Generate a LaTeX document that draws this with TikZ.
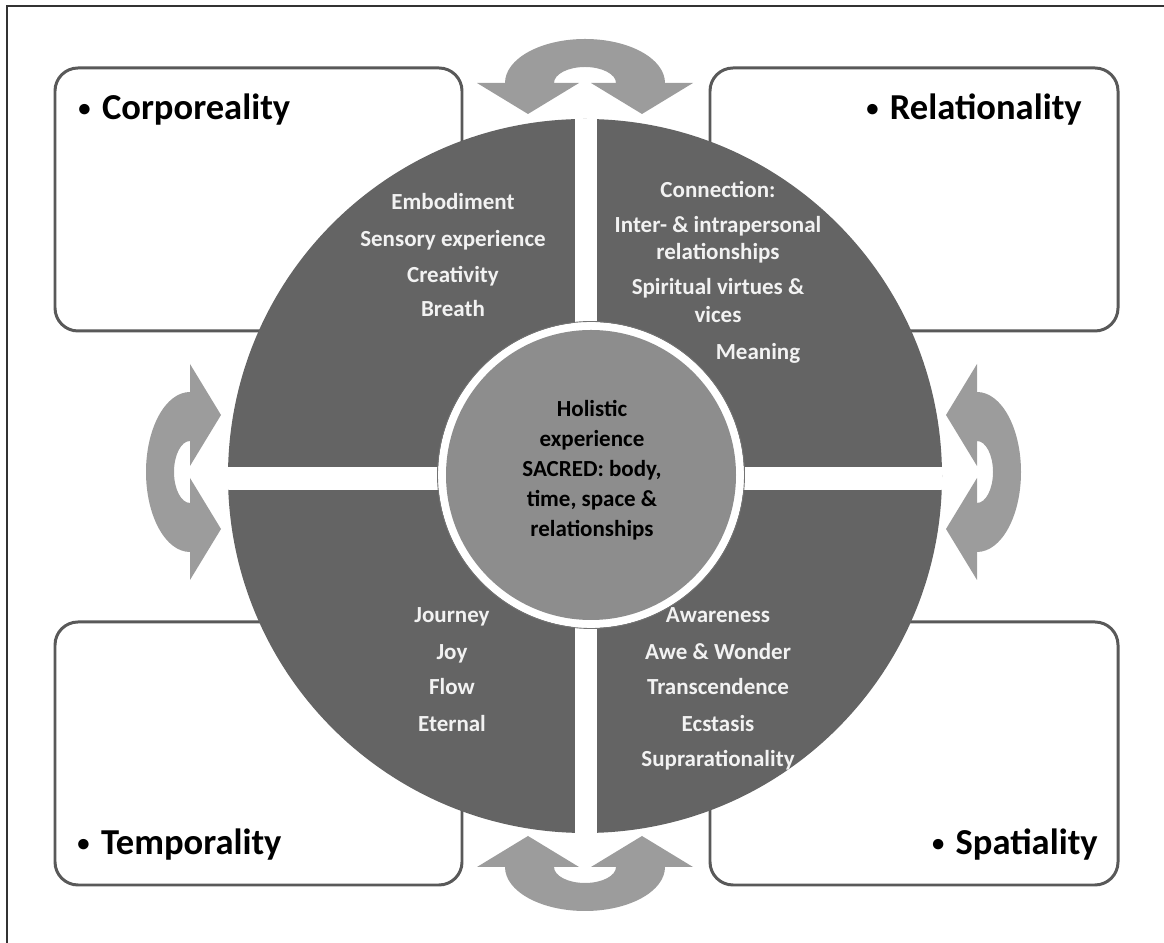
\documentclass[tikz,border=0pt]{standalone}
\usepackage{fontspec}
\setmainfont{Carlito}
\definecolor{quadgray}{HTML}{646464}
\definecolor{hubgray}{HTML}{8D8D8D}
\definecolor{arrowgray}{HTML}{9C9C9C}
\definecolor{boxline}{HTML}{595959}
\definecolor{qwhite}{HTML}{F2F2F2}
\newcommand\smallbul{\raisebox{2.2pt}{\fontsize{14}{14}\selectfont•}\hspace{6.5pt}}
\tikzset{
  panel/.style={draw=boxline, line width=1.7pt, rounded corners=0.46cm, fill=white},
  ptitle/.style={font=\fontsize{20.8}{25}\selectfont\bfseries, text=black, inner sep=0pt},
  qtext/.style={font=\fontsize{13.1}{17}\selectfont\bfseries, text=qwhite, inner sep=0pt, anchor=base},
  htext/.style={font=\fontsize{13.1}{17}\selectfont\bfseries, text=black, inner sep=0pt, anchor=base},
  turnfill/.style={fill=arrowgray, draw=none},
  framestyle/.style={draw=black!80, line width=1.1pt},
}
\newcommand\drawturn[2]{%
  \begin{scope}[shift={#1}, rotate=#2]
    \fill[turnfill] (-108,0) -- (-57,-31) -- (-6,0) -- (-31,0)
      .. controls (-31,8.8) and (-17.1,16) .. (0,16)
      .. controls (17.1,16) and (31,8.8) .. (31,0)
      -- (6,0) -- (57,-31) -- (108,0) -- (80,0)
      .. controls (80,24.3) and (44.2,44) .. (0,44)
      .. controls (-44.2,44) and (-80,24.3) .. (-80,0) -- cycle;
  \end{scope}}
\begin{document}
\begin{tikzpicture}[x=0.02cm, y=0.02cm]
  \useasboundingbox (0,0) rectangle (1164,943);
  % outer frame (left and top edges)
  \draw[framestyle] (7,0) -- (7,937) -- (1164,937);

  % four panels
  \draw[panel] (55,612) rectangle (462,875);
  \draw[panel] (710,612) rectangle (1118,875);
  \draw[panel] (55,58) rectangle (462,321);
  \draw[panel] (710,58) rectangle (1118,321);

  % big circle with white cross
  \fill[quadgray] (585,467) circle[radius=357];
  \begin{scope}
    \clip (585,467) circle[radius=357];
    \fill[white] (575,100) rectangle (597,830);
    \fill[white] (220,453) rectangle (950,476);
  \end{scope}

  % hub
  \fill[white] (591,468) circle[radius=153];
  \draw[black!55, line width=0.5pt] (591,468) circle[radius=153.5];
  \fill[hubgray] (591,468) circle[radius=145];

  % turning arrows
  \drawturn{(585,860)}{0}
  \drawturn{(585,76)}{180}
  \drawturn{(190,471)}{90}
  \drawturn{(977,471)}{-90}

  % panel titles
  \node[ptitle, anchor=base west] (tcorp) at (78,823) {\smallbul Corporeality};
  \node[ptitle, anchor=base east] (trel) at (1082,823) {\smallbul Relationality};
  \node[ptitle, anchor=base west] (ttemp) at (77,88) {\smallbul Temporality};
  \node[ptitle, anchor=base east] (tspat) at (1098,88) {\smallbul Spatiality};

  % top-left quadrant
  \node[qtext] (q1a) at (453,733) {Embodiment};
  \node[qtext] (q1b) at (453,696) {Sensory experience};
  \node[qtext] (q1c) at (453,660) {Creativity};
  \node[qtext] (q1d) at (453,626) {Breath};

  % top-right quadrant
  \node[qtext] (q2a) at (718,745) {Connection:};
  \node[qtext] (q2b) at (718,710) {Inter- \& intrapersonal};
  \node[qtext] (q2c) at (718,683) {relationships};
  \node[qtext] (q2d) at (718,648) {Spiritual virtues \&};
  \node[qtext] (q2e) at (718,620) {vices};
  \node[qtext] (q2f) at (758,583) {Meaning};

  % bottom-left quadrant
  \node[qtext] (q3a) at (452,320) {Journey};
  \node[qtext] (q3b) at (452,283) {Joy};
  \node[qtext] (q3c) at (452,248) {Flow};
  \node[qtext] (q3d) at (452,211) {Eternal};

  % bottom-right quadrant
  \node[qtext] (q4a) at (718,320) {Awareness};
  \node[qtext] (q4b) at (718,283) {Awe \& Wonder};
  \node[qtext] (q4c) at (718,248) {Transcendence};
  \node[qtext] (q4d) at (718,211) {Ecstasis};
  \node[qtext] (q4e) at (718,176) {Suprarationality};

  % hub text
  \node[htext] (h1) at (592,526) {Holistic};
  \node[htext] (h2) at (592,496) {experience};
  \node[htext] (h3) at (592,466) {SACRED: body,};
  \node[htext] (h4) at (592,436) {time, space \&};
  \node[htext] (h5) at (592,406) {relationships};
\end{tikzpicture}
\end{document}
